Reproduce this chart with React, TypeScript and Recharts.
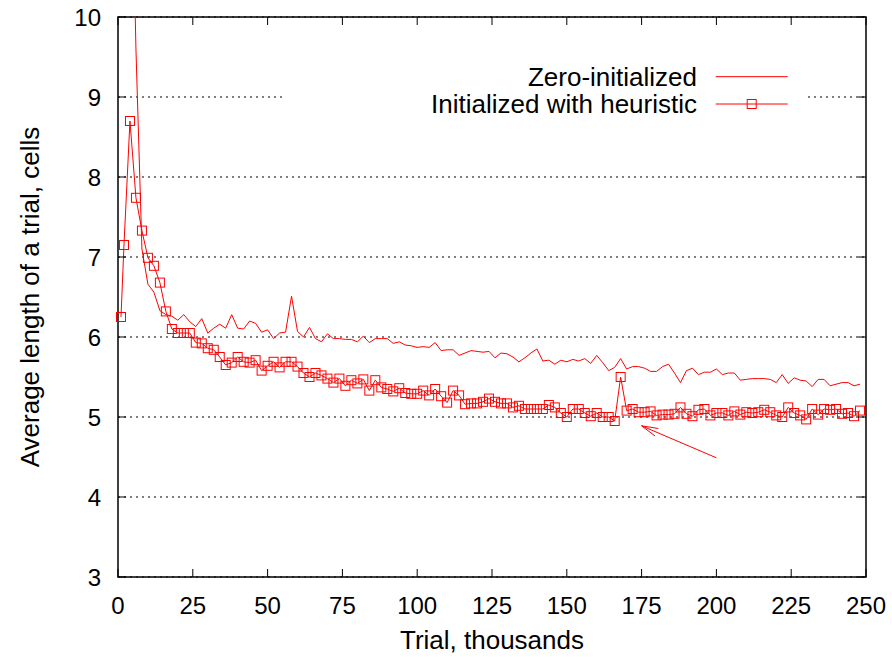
import {
  LineChart,
  Line,
  XAxis,
  YAxis,
  CartesianGrid,
  ReferenceLine,
  ReferenceArea,
  Legend,
} from "recharts";

// trial count, thousands
const trials = [
  1, 2, 4, 6, 8, 10, 12, 14, 16, 18,
  20, 22, 24, 26, 28, 30, 32, 34, 36, 38,
  40, 42, 44, 46, 48, 50, 52, 54, 56, 58,
  60, 62, 64, 66, 68, 70, 72, 74, 76, 78,
  80, 82, 84, 86, 88, 90, 92, 94, 96, 98,
  100, 102, 104, 106, 108, 110, 112, 114, 116, 118,
  120, 122, 124, 126, 128, 130, 132, 134, 136, 138,
  140, 142, 144, 146, 148, 150, 152, 154, 156, 158,
  160, 162, 164, 166, 168, 170, 172, 174, 176, 178,
  180, 182, 184, 186, 188, 190, 192, 194, 196, 198,
  200, 202, 204, 206, 208, 210, 212, 214, 216, 218,
  220, 222, 224, 226, 228, 230, 232, 234, 236, 238,
  240, 242, 244, 246, 248,
];

const zeroInit = [
  40, 25, 13, 9.6, 7.1, 6.66, 6.56, 6.33, 6.28, 6.26,
  6.21, 6.28, 6.19, 6.13, 6.23, 6.05, 6.11, 6.16, 6.11, 6.28,
  6.11, 6.1, 6.2, 6.17, 6.06, 6.09, 5.98, 6.05, 6.06, 6.51,
  6.07, 6.0, 6.12, 5.98, 5.94, 6.04, 5.98, 5.98, 5.97, 5.97,
  5.94, 6.01, 5.93, 5.98, 5.98, 5.98, 5.92, 5.94, 5.9, 5.89,
  5.87, 5.88, 5.87, 5.93, 5.83, 5.84, 5.84, 5.77, 5.8, 5.83,
  5.82, 5.81, 5.82, 5.74, 5.8, 5.79, 5.75, 5.69, 5.74, 5.8,
  5.85, 5.7, 5.71, 5.66, 5.71, 5.69, 5.72, 5.7, 5.73, 5.67,
  5.77, 5.68, 5.58, 5.62, 5.73, 5.6, 5.63, 5.63, 5.61, 5.57,
  5.57, 5.63, 5.66, 5.55, 5.43, 5.58, 5.61, 5.53, 5.56, 5.56,
  5.6, 5.53, 5.55, 5.55, 5.46, 5.47, 5.48, 5.48, 5.48, 5.47,
  5.43, 5.53, 5.42, 5.49, 5.46, 5.45, 5.38, 5.47, 5.47, 5.39,
  5.41, 5.43, 5.43, 5.39, 5.41,
];

const heuristic = [
  6.25, 7.15, 8.7, 7.74, 7.33, 6.99, 6.89, 6.68, 6.32, 6.1,
  6.05, 6.05, 6.05, 5.93, 5.92, 5.86, 5.84, 5.75, 5.65, 5.68,
  5.75, 5.69, 5.68, 5.71, 5.58, 5.64, 5.69, 5.62, 5.69, 5.69,
  5.63, 5.55, 5.5, 5.55, 5.52, 5.48, 5.43, 5.48, 5.39, 5.46,
  5.42, 5.47, 5.33, 5.46, 5.37, 5.35, 5.32, 5.36, 5.3, 5.29,
  5.29, 5.33, 5.27, 5.35, 5.26, 5.18, 5.33, 5.27, 5.16, 5.17,
  5.17, 5.19, 5.23, 5.19, 5.17, 5.17, 5.12, 5.14, 5.1, 5.1,
  5.1, 5.1, 5.15, 5.12, 5.05, 5.0, 5.1, 5.1, 5.05, 5.01,
  5.05, 5.0, 5.0, 4.95, 5.5, 5.08, 5.1, 5.06, 5.06, 5.07,
  5.02, 5.03, 5.03, 5.04, 5.12, 5.04, 5.01, 5.09, 5.1, 5.02,
  5.05, 5.05, 5.02, 5.07, 5.03, 5.06, 5.05, 5.06, 5.09, 5.06,
  5.02, 5.0, 5.12, 5.05, 5.02, 4.97, 5.1, 5.03, 5.1, 5.09,
  5.1, 5.04, 5.05, 5.01, 5.08,
];

const xTicks = [0, 25, 50, 75, 100, 125, 150, 175, 200, 225, 250];
const yTicks = [3, 4, 5, 6, 7, 8, 9, 10];

// arrow pointing at the spike's aftermath
const arrowFrom = { x: 200, y: 4.49 };
const arrowTo = { x: 175, y: 4.89 };

const data = trials.map((t, i) => ({ t, zero: zeroInit[i], heur: heuristic[i] }));

const FONT = '"Liberation Sans", Arial, Helvetica, sans-serif';
const RED = "#ff0000";
const PLOT = { left: 118, top: 17, right: 866, bottom: 577 };
const TICK = 8;

const XTick = (props: any) => {
  const { x, payload } = props;
  return (
    <g>
      <line x1={x} x2={x} y1={PLOT.bottom} y2={PLOT.bottom - TICK} stroke="#000" />
      <line x1={x} x2={x} y1={PLOT.top} y2={PLOT.top + TICK} stroke="#000" />
      <text
        x={x}
        y={605}
        textAnchor="middle"
        dominantBaseline="central"
        fontFamily={FONT}
        fontSize={24}
        fill="#000"
      >
        {payload.value}
      </text>
    </g>
  );
};

const YTick = (props: any) => {
  const { y, payload } = props;
  return (
    <g>
      <line x1={PLOT.left} x2={PLOT.left + TICK} y1={y} y2={y} stroke="#000" />
      <line x1={PLOT.right} x2={PLOT.right - TICK} y1={y} y2={y} stroke="#000" />
      <text
        x={101}
        y={y}
        textAnchor="end"
        dominantBaseline="central"
        fontFamily={FONT}
        fontSize={24}
        fill="#000"
      >
        {payload.value}
      </text>
    </g>
  );
};

const XLabel = () => (
  <text x={492} y={640} textAnchor="middle" dominantBaseline="central" fontFamily={FONT} fontSize={26} fill="#000">
    Trial, thousands
  </text>
);

const YLabel = () => (
  <text
    x={30}
    y={297}
    transform="rotate(-90 30 297)"
    textAnchor="middle"
    dominantBaseline="central"
    fontFamily={FONT}
    fontSize={26}
    fill="#000"
  >
    Average length of a trial, cells
  </text>
);

const Square = (props: any) => {
  const { cx, cy, index } = props;
  if (cx == null || cy == null) return <g key={index} />;
  return (
    <rect key={index} x={cx - 4.5} y={cy - 4.5} width={9} height={9} fill="none" stroke={RED} strokeWidth={1} />
  );
};

const Arrow = (props: any) => {
  const { x1, y1, x2, y2 } = props;
  const back = Math.atan2(y1 - y2, x1 - x2);
  const len = 17;
  const spread = (14 * Math.PI) / 180;
  const w1 = { x: x2 + len * Math.cos(back + spread), y: y2 + len * Math.sin(back + spread) };
  const w2 = { x: x2 + len * Math.cos(back - spread), y: y2 + len * Math.sin(back - spread) };
  return (
    <g stroke={RED} strokeWidth={1}>
      <line x1={x1} y1={y1} x2={x2} y2={y2} />
      <line x1={x2} y1={y2} x2={w1.x} y2={w1.y} />
      <line x1={x2} y1={y2} x2={w2.x} y2={w2.y} />
    </g>
  );
};

const KeyBox = () => (
  <svg width={520} height={60} style={{ display: "block" }}>
    <rect x={0} y={0} width={520} height={60} fill="#fff" />
    <text x={412} y={18.7} textAnchor="end" dominantBaseline="central" fontFamily={FONT} fontSize={26} fill="#000">
      Zero-initialized
    </text>
    <line x1={430.7} x2={502.7} y1={18.7} y2={18.7} stroke={RED} strokeWidth={1} />
    <text x={412} y={46} textAnchor="end" dominantBaseline="central" fontFamily={FONT} fontSize={26} fill="#000">
      Initialized with heuristic
    </text>
    <line x1={430.7} x2={502.7} y1={46} y2={46} stroke={RED} strokeWidth={1} />
    <rect x={462.2} y={41.5} width={9} height={9} fill="none" stroke={RED} strokeWidth={1} />
  </svg>
);

export default function App() {
  return (
    <div style={{ position: "absolute", left: 0, top: 0, width: 892, height: 657, background: "#fff" }}>
      <LineChart
        width={892}
        height={657}
        data={data}
        margin={{ top: PLOT.top, right: 892 - PLOT.right, bottom: 20, left: PLOT.left - 80 }}
      >
        <CartesianGrid vertical={false} stroke="#000" strokeWidth={1} strokeDasharray="2 4" />
        <XAxis
          dataKey="t"
          type="number"
          domain={[0, 250]}
          ticks={xTicks}
          height={60}
          axisLine={false}
          tickLine={false}
          tick={<XTick />}
          interval={0}
          label={<XLabel />}
        />
        <YAxis
          type="number"
          domain={[3, 10]}
          ticks={yTicks}
          allowDataOverflow
          width={80}
          axisLine={false}
          tickLine={false}
          tick={<YTick />}
          interval={0}
          label={<YLabel />}
        />
        <ReferenceArea
          x1={0}
          x2={250}
          y1={3}
          y2={10}
          fill="none"
          fillOpacity={0}
          stroke="#000"
          strokeWidth={1.5}
          ifOverflow="visible"
        />
        <Legend
          layout="vertical"
          align="center"
          verticalAlign="middle"
          content={() => <KeyBox />}
          wrapperStyle={{ position: "absolute", left: 285, top: 58, width: 520, height: 60 }}
        />
        <ReferenceLine segment={[arrowFrom, arrowTo]} stroke={RED} ifOverflow="visible" shape={Arrow} />
        <Line
          type="linear"
          dataKey="zero"
          name="Zero-initialized"
          stroke={RED}
          strokeWidth={1}
          dot={false}
          activeDot={false}
          isAnimationActive={false}
        />
        <Line
          type="linear"
          dataKey="heur"
          name="Initialized with heuristic"
          stroke={RED}
          strokeWidth={1}
          dot={Square}
          activeDot={false}
          isAnimationActive={false}
        />
      </LineChart>
    </div>
  );
}
